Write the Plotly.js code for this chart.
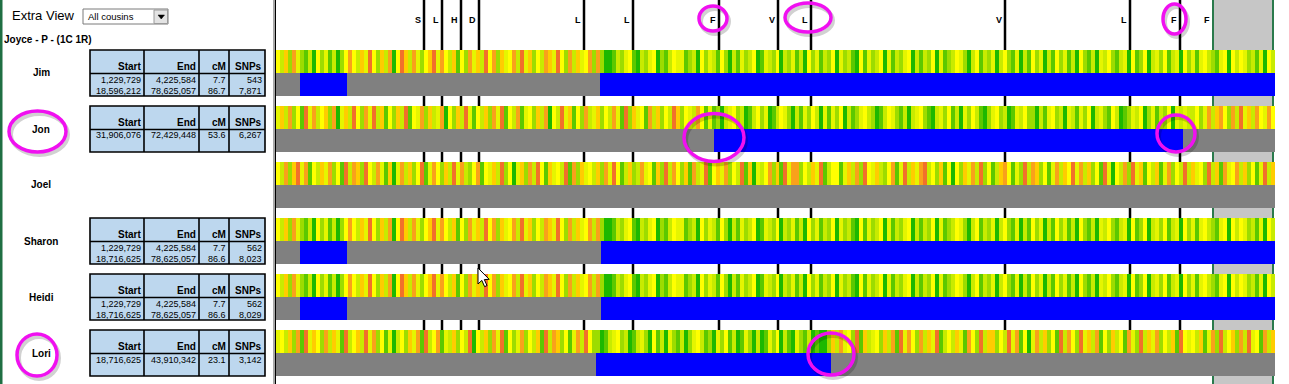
<!DOCTYPE html>
<html><head><meta charset="utf-8">
<script src="https://cdn.plot.ly/plotly-3.0.1.min.js"></script>
<style>html,body{margin:0;padding:0;background:#fff;overflow:hidden}#chart{width:1289px;height:384px}</style>
</head><body><div id="chart"></div>
<script>
// ---------- data ----------
const people = ['Jim', 'Jon', 'Joel', 'Sharon', 'Heidi', 'Lori'];
const segStart = [[1229729, 18596212], [31906076], [], [1229729, 18716625], [1229729, 18716625], [18716625]];
const segEnd = [[4225584, 78625057], [72429448], [], [4225584, 78625057], [4225584, 78625057], [43910342]];
const segCM = [[7.7, 86.7], [53.6], [], [7.7, 86.6], [7.7, 86.6], [23.1]];
const segSNPs = [[543, 7871], [6267], [], [562, 8023], [562, 8029], [3142]];
// matched segments on the browser axis (panel position units, 0..999)
const chromLen = 999;
const barFrom = [[24, 324], [438], [], [24, 325], [24, 325], [320]];
const barTo = [[71, 999], [907], [], [71, 999], [71, 999], [555]];
// marker columns along the chromosome axis
const markerPos = [148, 166, 185, 203, 308, 357, 443, 502, 535, 729, 854, 904, 937];
const markerLabels = ['S', 'L', 'H', 'D', 'L', 'L', 'F', 'V', 'L', 'V', 'L', 'F', 'F'];
const markerHasLine = [1, 1, 1, 1, 1, 1, 1, 1, 1, 1, 1, 1, 0];
const regionFrom = 937, regionTo = 997;
// SNP comparison stripes, level 0 (red) .. 9 (green)
const heatJim = ['463725', '786947586974',
  '2463514736', '2941362574', '3152463847', '2536142735', '4261537462', '3514726354', '272',
  '7998675489', '6754978645', '5876947568', '4796857649', '8567496758', '6947586749', '5768948576', '4958675496',
  '8674958764', '5796486759', '6478596847', '5968475869', '4786956478', '6594874965', '7486594758', '5467854946', '457685946'].join('');
const heatJon = ['5362748152', '6437295361', '4725163847', '3618452736', '5294736158', '4637251846', '2854736294', '6153847265',
  '3746258173', '5482637461', '374562485',
  '8796547698', '6475986457', '9685746958', '5749687546', '7986457869', '6547896574', '8695746897', '5476985647',
  '7968547695', '6857496578', '4698756497', '58674956',
  '56647526324726153624524'].join('');
const heatJoel = ['4627315284', '6352748162', '3714625839', '5263741852', '4736152674', '2845361749', '5372614835', '4618273546',
  '3725148637', '6254837162', '4738265184', '3527461839', '5642738152', '2746351864', '4853627145', '3674285163',
  '5216473849', '4735261748', '6324857162', '3748526341', '5263748159', '4627153846', '3852746163', '5471638254', '2637485163'].join('');
const heatSharon = ['463725', '786947586974',
  '2463514736', '2941362574', '3152463847', '2536142735', '4261537462', '3514726354', '262',
  '7998675489', '6754978645', '5876947568', '4796857649', '8567496758', '6947586749', '5768948576', '4958675496',
  '8674958764', '5796486759', '6478596847', '5968475869', '4786956478', '6594874965', '7486594758', '5467854946', '457685946'].join('');
const heatHeidi = ['463725', '786947586974',
  '2463514736', '2941362574', '3152463847', '2536142735', '4261537462', '3514726354', '262',
  '7998675489', '6754978645', '5876947568', '4796857649', '8567496758', '6947586749', '5768948576', '4958675496',
  '8674958764', '5796486759', '6478596847', '5968475869', '4786956478', '6594874965', '7486594758', '5467854946', '457685946'].join('');
const heatLori = ['5463728153', '4726358164', '3615274859', '6473528164', '2856374619', '4637251847', '5274638162', '3748526147',
  '7986547698', '6579486957', '8697546879', '5748698579', '6985749689', '578698997',
  '3625471836', '5473628152', '4726351864', '6358247163', '3746152849', '5263748162', '4715362847', '3648257163',
  '5274638145', '4638527164', '37261548263'].join('');
const heatRows = [heatJim, heatJon, heatJoel, heatSharon, heatHeidi, heatLori];

// ---------- layout helpers ----------
const W = 1289, H = 384;
const FONT = 'Liberation Sans, Arial, sans-serif';
const px = x => x / W, py = y => 1 - y / H;
const top0 = 50, pitch = 56, half = 23 / 56;
const rowTop = i => top0 + pitch * i;

const colorscale = [
  [0, '#e8412c'], [1 / 9, '#f2702a'], [2 / 9, '#f9a11b'], [3 / 9, '#ffcc00'], [4 / 9, '#ffff00'],
  [5 / 9, '#e5f500'], [6 / 9, '#c8eb00'], [7 / 9, '#9ddc00'], [8 / 9, '#5cc800'], [1, '#1db800']];

const traces = [];
heatRows.forEach((s, i) => {
  const z = s.split('').map(Number);
  const dx = chromLen / z.length;
  traces.push({type: 'heatmap', z: [z], x0: dx / 2, dx: dx, y0: i + half / 2, dy: half,
    zmin: 0, zmax: 9, colorscale: colorscale, showscale: false, zsmooth: false, hoverinfo: 'skip'});
});
// grey background bars
traces.push({type: 'bar', orientation: 'h', y: people.map((p, i) => i + 1.5 * half), x: people.map(() => chromLen),
  base: people.map(() => 0), width: half, marker: {color: '#808080', line: {width: 0}}, hoverinfo: 'skip'});
// blue matched segments
const by = [], bx = [], bb = [];
barFrom.forEach((arr, i) => arr.forEach((f, k) => { by.push(i + 1.5 * half); bb.push(f); bx.push(barTo[i][k] - f); }));
traces.push({type: 'bar', orientation: 'h', y: by, x: bx, base: bb, width: half,
  marker: {color: '#0000ff', line: {width: 0}}, hoverinfo: 'skip'});
// marker lines in top strip and gaps
const gaps = [[-50 / 56, 0]];
for (let i = 0; i < people.length - 1; i++) gaps.push([i + 2 * half, i + 1]);
const lx = [], ly = [];
markerPos.forEach((p, k) => { if (!markerHasLine[k]) return; gaps.forEach(g => { lx.push(p, p, null); ly.push(g[0], g[1], null); }); });
traces.push({type: 'scatter', mode: 'lines', x: lx, y: ly, line: {color: '#000', width: 2.5}, hoverinfo: 'skip'});

// ---------- shapes ----------
const shapes = [];
const rectPx = (x0, y0, x1, y1, fill, lc, lw, layer) => shapes.push({type: 'rect', xref: 'paper', yref: 'paper',
  x0: px(x0), x1: px(x1), y0: py(y1), y1: py(y0), fillcolor: fill, line: {color: lc, width: lw}, layer: layer || 'above'});
const linePx = (x0, y0, x1, y1, c, w) => shapes.push({type: 'line', xref: 'paper', yref: 'paper',
  x0: px(x0), x1: px(x1), y0: py(y0), y1: py(y1), line: {color: c, width: w}, layer: 'above'});
const pathPx = (pts, fill, lc, lw) => shapes.push({type: 'path', xref: 'paper', yref: 'paper',
  path: 'M' + pts.map(p => px(p[0]) + ',' + py(p[1])).join('L') + 'Z', fillcolor: fill, line: {color: lc, width: lw}, layer: 'above'});

// shaded region at the right end
shapes.push({type: 'rect', xref: 'x', yref: 'paper', x0: regionFrom, x1: regionTo, y0: 0, y1: 1,
  fillcolor: '#c6c6c6', line: {width: 0}, layer: 'below'});
[regionFrom, regionTo].forEach(x => shapes.push({type: 'line', xref: 'x', yref: 'paper', x0: x, x1: x, y0: 0, y1: 1,
  line: {color: '#2a7a4c', width: 2}, layer: 'below'}));
// left border & separator
rectPx(0, 0, 2.5, H, '#1f6f43', 'rgba(0,0,0,0)', 0);
linePx(274, 0, 274, H, '#505050', 1);
linePx(275.5, 0, 275.5, H, '#000', 1);
// dropdown
rectPx(83, 9, 168, 24, '#fff', '#7a7a7a', 1);
rectPx(154, 10, 167.5, 23.5, '#e3e3e3', '#9a9a9a', 1);
pathPx([[158, 15], [164.5, 15], [161.25, 19]], '#000', '#000', 0.5);
// tables
const annotations = [];
const ann = (x, y, text, anchor, size, bold) => annotations.push({xref: 'paper', yref: 'paper', x: px(x), y: py(y),
  text: bold ? '<b>' + text + '</b>' : text, showarrow: false, xanchor: anchor, yanchor: 'middle', borderpad: 0,
  font: {family: FONT, size: size, color: '#000'}});
const colRight = [142, 197, 227, 263];
const heads = ['Start', 'End', 'cM', 'SNPs'];
const fmt = n => n.toLocaleString('en-US');
people.forEach((p, i) => {
  const t = rowTop(i);
  ann(41, t + 23, p, 'center', 10, true);
  if (!segStart[i].length) return;
  rectPx(90, t, 265, t + 46, '#bdd7ee', '#000', 1.6);
  linePx(90, t + 23.5, 265, t + 23.5, '#000', 1.6);
  [144, 199, 229].forEach(x => linePx(x, t, x, t + 46, '#000', 1.6));
  heads.forEach((h, k) => ann(colRight[k], t + 16.5, h, 'right', 10, true));
  segStart[i].forEach((s, k) => {
    const y = t + 29.5 + 11 * k;
    ann(colRight[0], y, fmt(s), 'right', 9);
    ann(colRight[1], y, fmt(segEnd[i][k]), 'right', 9);
    ann(colRight[2], y, segCM[i][k].toFixed(1), 'right', 9);
    ann(colRight[3], y, fmt(segSNPs[i][k]), 'right', 9);
  });
});
ann(11, 16, 'Extra View', 'left', 13);
ann(87, 16.5, 'All cousins', 'left', 9.5);
ann(3, 39.5, 'Joyce - P - (1C 1R)', 'left', 10, true);
// marker labels
markerPos.forEach((p, k) => annotations.push({xref: 'x', yref: 'paper', x: p, y: py(20), xshift: -2,
  text: '<b>' + markerLabels[k] + '</b>', showarrow: false, xanchor: 'right', yanchor: 'middle', borderpad: 0,
  font: {family: FONT, size: 9, color: '#000'}}));
// highlight ellipses [cx, cy, rx, ry]
const rings = [[713, 18.5, 14, 12.5], [808, 17.5, 23, 14.5], [1174.5, 19, 11.5, 15], [37.5, 131.5, 28.5, 20.5],
  [714, 137.5, 30, 24], [1176, 133.5, 19, 18.5], [37, 355, 20, 21], [831, 354, 23, 21]];
rings.forEach(r => shapes.push({type: 'circle', xref: 'paper', yref: 'paper', x0: px(r[0] - r[2] + 2), x1: px(r[0] + r[2] + 2),
  y0: py(r[1] + r[3] + 3), y1: py(r[1] - r[3] + 3), line: {color: 'rgba(0,0,0,0.18)', width: 4}, layer: 'above'}));
rings.forEach(r => shapes.push({type: 'circle', xref: 'paper', yref: 'paper', x0: px(r[0] - r[2]), x1: px(r[0] + r[2]),
  y0: py(r[1] + r[3]), y1: py(r[1] - r[3]), line: {color: '#f010f0', width: 3.5}, layer: 'above'}));
// mouse pointer
const cx = 478, cy = 268;
pathPx([[0, 0], [0, 16], [3.8, 12.4], [6.6, 18.6], [9, 17.6], [6.3, 11.6], [11.2, 11.3]].map(p => [cx + p[0], cy + p[1]]), '#fff', '#000', 1);

const layout = {
  width: W, height: H, margin: {l: 0, r: 0, t: 0, b: 0}, paper_bgcolor: '#fff', plot_bgcolor: 'rgba(0,0,0,0)',
  showlegend: false, barmode: 'overlay', hovermode: false,
  xaxis: {domain: [276 / W, 1275 / W], range: [0, chromLen], visible: false, fixedrange: true},
  yaxis: {domain: [0, 1], range: [(H - top0) / pitch, -top0 / pitch], visible: false, fixedrange: true},
  shapes: shapes, annotations: annotations
};
Plotly.newPlot('chart', traces, layout, {displayModeBar: false, staticPlot: true});
</script></body></html>
